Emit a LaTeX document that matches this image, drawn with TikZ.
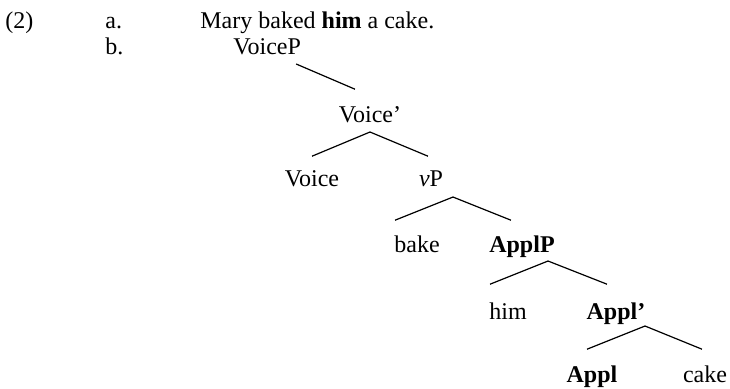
\documentclass[tikz,border=0pt]{standalone}
\usepackage{fontspec}
\setmainfont{Liberation Serif}
\begin{document}
\begin{tikzpicture}[x=0.5pt,y=-0.5pt,
    font=\fontsize{12}{14}\selectfont,
    lbl/.style={inner sep=0pt,text height=8pt,text depth=0pt,anchor=south},
    branch/.style={line width=0.6pt}]
    \useasboundingbox (0,0) rectangle (730,388);

    % example line and item labels
    \node[lbl,anchor=south west] (num) at (5,29) {(2)};
    \node[lbl,anchor=south west] (itema) at (105,29) {a.};
    \node[lbl,anchor=south west] (sent) at (200,29) {Mary baked \textbf{him} a cake.};
    \node[lbl,anchor=south west] (itemb) at (105,55) {b.};
    \node[lbl,anchor=south west] (voicep) at (233,55) {VoiceP};

    % tree
    \node[lbl] (voicebar) at (370,123) {Voice’};
    \node[lbl] (voice) at (312,187) {Voice};
    \node[lbl] (vp) at (431,187) {\textit{v}P};
    \node[lbl] (bake) at (417,253) {bake};
    \node[lbl] (applp) at (522,253) {\textbf{ApplP}};
    \node[lbl] (him) at (508,320) {him};
    \node[lbl] (applbar) at (616,320) {\textbf{Appl’}};
    \node[lbl] (appl) at (592,383) {\textbf{Appl}};
    \node[lbl] (cake) at (705,383) {cake};

    \draw[branch] ([xshift=14.5pt,yshift=-4.5pt]voicep.south) -- ([xshift=-7.5pt,yshift=8.5pt]voicebar.north);

    \draw[branch] ([yshift=-4.5pt]voicebar.south) -- ([yshift=7pt]voice.north);
    \draw[branch] ([yshift=-4.5pt]voicebar.south) -- ([xshift=-1.5pt,yshift=7pt]vp.north);

    \draw[branch] ([xshift=11pt,yshift=-5pt]vp.south) -- ([xshift=-11pt,yshift=8pt]bake.north);
    \draw[branch] ([xshift=11pt,yshift=-5pt]vp.south) -- ([xshift=-5.5pt,yshift=8pt]applp.north);

    \draw[branch] ([xshift=13pt,yshift=-4pt]applp.south) -- ([xshift=-9pt,yshift=9.5pt]him.north);
    \draw[branch] ([xshift=13pt,yshift=-4pt]applp.south) -- ([xshift=-4.5pt,yshift=9.5pt]applbar.north);

    \draw[branch] ([xshift=14.5pt,yshift=-3pt]applbar.south) -- ([xshift=-2.5pt,yshift=8.5pt]appl.north);
    \draw[branch] ([xshift=14.5pt,yshift=-3pt]applbar.south) -- ([xshift=-1.5pt,yshift=8.5pt]cake.north);
\end{tikzpicture}
\end{document}
